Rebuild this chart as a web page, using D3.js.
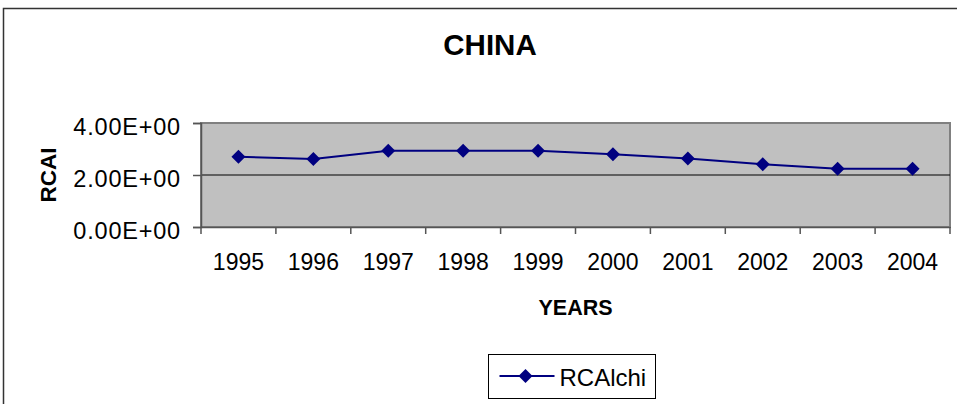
<!DOCTYPE html>
<html>
<head>
<meta charset="utf-8">
<script src="https://cdn.jsdelivr.net/npm/d3@7"></script>
<style>
  body { margin: 0; background: #fff; }
  svg { display: block; font-family: "Liberation Sans", Arial, sans-serif; }
</style>
</head>
<body>
<div id="container"></div>
<script>
const width = 957, height = 404;

// data
const years = ["1995", "1996", "1997", "1998", "1999", "2000", "2001", "2002", "2003", "2004"];
const rcaValues = [2.70, 2.62, 2.93, 2.93, 2.93, 2.80, 2.63, 2.41, 2.24, 2.24];
const yTicks = [0, 2, 4];
const seriesName = "RCAlchi";

const plot = { left: 201, right: 950, top: 123, bottom: 227 };

const svg = d3.select("div#container")
    .append("svg")
    .attr("width", width)
    .attr("height", height);

// chart area border
svg.append("rect")
    .attr("x", 3.5).attr("y", 8.5)
    .attr("width", 990).attr("height", 420)
    .attr("fill", "#fff")
    .attr("stroke", "#333")
    .attr("stroke-width", 1.5);

const x = d3.scaleBand()
    .domain(years)
    .range([plot.left, plot.right])
    .padding(0);

const y = d3.scaleLinear()
    .domain([0, 4])
    .range([plot.bottom, plot.top]);

// plot area
svg.append("rect")
    .attr("x", plot.left).attr("y", plot.top)
    .attr("width", plot.right - plot.left)
    .attr("height", plot.bottom - plot.top)
    .attr("fill", "#c0c0c0")
    .attr("stroke", "#808080")
    .attr("stroke-width", 2);

// gridlines
svg.append("g")
    .selectAll("line")
    .data(yTicks.filter(d => d > 0 && d < 4))
    .join("line")
    .attr("x1", plot.left).attr("x2", plot.right)
    .attr("y1", d => y(d)).attr("y2", d => y(d))
    .attr("stroke", "#000")
    .attr("stroke-width", 1);

// y axis
const fmtE = d => d.toFixed(2) + "E+00";
const yAxis = svg.append("g")
    .attr("transform", `translate(${plot.left},0)`)
    .call(d3.axisLeft(y).tickValues(yTicks).tickFormat(fmtE).tickSize(8).tickPadding(12));
yAxis.select(".domain").attr("stroke", "#555").attr("stroke-width", 1.5);
yAxis.selectAll(".tick line").attr("stroke", "#555").attr("stroke-width", 1.5);
yAxis.selectAll(".tick text")
    .attr("fill", "#000")
    .style("font-size", "23.5px")
    .style("letter-spacing", "0.8px")
    .attr("dy", "0.5em")
    .attr("x", -20);

// x axis: ticks between categories
const xAxis = svg.append("g")
    .attr("transform", `translate(0,${plot.bottom})`)
    .call(d3.axisBottom(x).tickSize(0).tickPadding(27));
xAxis.select(".domain").attr("stroke", "#555").attr("stroke-width", 1.5);
xAxis.selectAll(".tick text")
    .attr("fill", "#000")
    .style("font-size", "23px");
xAxis.append("g")
    .selectAll("line")
    .data(years.map(d => x(d)).concat([plot.right]))
    .join("line")
    .attr("x1", d => d).attr("x2", d => d)
    .attr("y1", 0).attr("y2", 7)
    .attr("stroke", "#555")
    .attr("stroke-width", 1.5);

// series line
const line = d3.line()
    .x((d, i) => x(years[i]) + x.bandwidth() / 2)
    .y(d => y(d));

svg.append("path")
    .datum(rcaValues)
    .attr("d", line)
    .attr("fill", "none")
    .attr("stroke", "#000080")
    .attr("stroke-width", 2);

const diamond = d3.symbol().type(d3.symbolDiamond2).size(125);
svg.append("g")
    .selectAll("path")
    .data(rcaValues)
    .join("path")
    .attr("d", diamond)
    .attr("transform", (d, i) => `translate(${x(years[i]) + x.bandwidth() / 2},${y(d)})`)
    .attr("fill", "#000080");

// titles
svg.append("text")
    .attr("x", 490).attr("y", 55)
    .attr("text-anchor", "middle")
    .style("font-size", "29.5px")
    .style("font-weight", "bold")
    .text("CHINA");

svg.append("text")
    .attr("x", (plot.left + plot.right) / 2).attr("y", 315)
    .attr("text-anchor", "middle")
    .style("font-size", "21.5px")
    .style("font-weight", "bold")
    .text("YEARS");

svg.append("text")
    .attr("transform", `translate(56,${(plot.top + plot.bottom) / 2}) rotate(-90)`)
    .attr("text-anchor", "middle")
    .style("font-size", "22.5px")
    .style("font-weight", "bold")
    .text("RCAI");

// legend
const legend = svg.append("g").attr("transform", "translate(488.5,354.5)");
legend.append("rect")
    .attr("width", 167).attr("height", 44)
    .attr("fill", "#fff")
    .attr("stroke", "#000")
    .attr("stroke-width", 1);
legend.append("line")
    .attr("x1", 11).attr("x2", 66)
    .attr("y1", 21.5).attr("y2", 21.5)
    .attr("stroke", "#000080")
    .attr("stroke-width", 2);
legend.append("path")
    .attr("d", diamond)
    .attr("transform", "translate(37,21.5)")
    .attr("fill", "#000080");
legend.append("text")
    .attr("x", 71).attr("y", 31)
    .style("font-size", "24px")
    .text(seriesName);
</script>
</body>
</html>
